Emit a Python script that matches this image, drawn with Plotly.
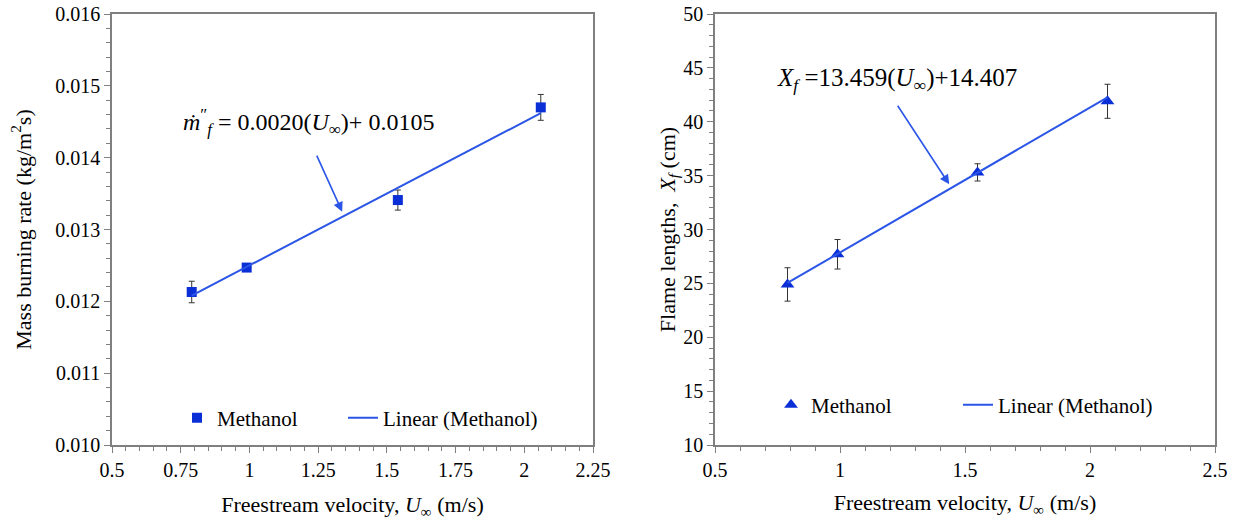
import plotly.graph_objects as go
import numpy as np

# ---------------- data ----------------
velocity_left = [0.79, 0.99, 1.54, 2.06]
burning_rate = [0.01213, 0.01247, 0.01341, 0.01470]
burning_rate_err = [0.00015, 0.00003, 0.00014, 0.00018]
burn_slope, burn_intercept = 0.0020, 0.0105

velocity_right = [0.79, 0.99, 1.55, 2.07]
flame_length = [24.9, 27.7, 35.3, 41.9]
flame_length_err = [1.55, 1.37, 0.8, 1.58]
flame_slope, flame_intercept = 13.459, 14.407

left_xticks = [0.5, 0.75, 1, 1.25, 1.5, 1.75, 2, 2.25]
left_yticks = [0.010, 0.011, 0.012, 0.013, 0.014, 0.015, 0.016]
right_xticks = [0.5, 1, 1.5, 2, 2.5]
right_yticks = [10, 15, 20, 25, 30, 35, 40, 45, 50]

W, H = 1237, 525
FONT = "Liberation Serif"
MARK = "#0B2FD6"
LINE = "#2A55E6"
AXC = "#7f7f7f"
TXT = "#000000"

def px_x(p):
    return p / W

def px_y(p):
    return 1 - p / H

fig = go.Figure()

# left panel
fig.add_trace(go.Scatter(
    x=velocity_left, y=burning_rate, mode="markers", name="Methanol",
    marker=dict(symbol="square", size=10, color=MARK),
    error_y=dict(type="data", array=burning_rate_err, color="#333333", thickness=1, width=3),
    xaxis="x", yaxis="y", legend="legend"))
lx = np.array([velocity_left[0], velocity_left[-1]])
fig.add_trace(go.Scatter(
    x=lx, y=burn_slope * lx + burn_intercept, mode="lines", name="Linear (Methanol)",
    line=dict(color=LINE, width=2), xaxis="x", yaxis="y", legend="legend2"))

# right panel
fig.add_trace(go.Scatter(
    x=velocity_right, y=flame_length, mode="markers", name="Methanol",
    marker=dict(symbol="triangle-up", size=12, color=MARK),
    error_y=dict(type="data", array=flame_length_err, color="#333333", thickness=1, width=3),
    xaxis="x2", yaxis="y2", legend="legend3"))
rx = np.array([velocity_right[0], velocity_right[-1]])
fig.add_trace(go.Scatter(
    x=rx, y=flame_slope * rx + flame_intercept, mode="lines", name="Linear (Methanol)",
    line=dict(color=LINE, width=2), xaxis="x2", yaxis="y2", legend="legend4"))

tickfont = dict(family=FONT, size=20, color=TXT)
titlefont = dict(family=FONT, size=22, color=TXT)

common = dict(showline=True, linecolor=AXC, linewidth=1.5, mirror=True,
              ticks="outside", ticklen=6, tickcolor=AXC, tickwidth=1,
              showgrid=False, zeroline=False, tickfont=tickfont, automargin=False)

ydom = [px_y(445), px_y(14)]

legfont = dict(family=FONT, size=21, color=TXT)
def leg(xp, yp):
    return dict(orientation="h", x=px_x(xp), y=px_y(yp), xanchor="left", yanchor="middle",
                font=legfont, bgcolor="rgba(0,0,0,0)", itemwidth=30)

fig.update_layout(
    width=W, height=H, margin=dict(l=0, r=0, t=0, b=0),
    paper_bgcolor="white", plot_bgcolor="white",
    font=dict(family=FONT, size=20, color=TXT),
    xaxis=dict(domain=[px_x(112), px_x(593)], range=[0.5, 2.25], tickvals=left_xticks,
               minor=dict(dtick=0.05, ticks="outside", ticklen=4, tickcolor=AXC),
               title=dict(text="Freestream velocity, <i>U</i><sub>∞</sub> (m/s)", font=titlefont, standoff=17),
               anchor="y", **common),
    yaxis=dict(domain=ydom, range=[0.010, 0.016], tickvals=left_yticks, tickformat=".3f",
               minor=dict(dtick=0.0002, ticks="outside", ticklen=4, tickcolor=AXC),
               title=dict(text="Mass burning rate (kg/m<sup>2</sup>s)", font=titlefont, standoff=18),
               anchor="x", **common),
    xaxis2=dict(domain=[px_x(715), px_x(1215)], range=[0.5, 2.5], tickvals=right_xticks,
                minor=dict(dtick=0.1, ticks="outside", ticklen=4, tickcolor=AXC),
                title=dict(text="Freestream velocity, <i>U</i><sub>∞</sub> (m/s)", font=titlefont, standoff=15),
                anchor="y2", **common),
    yaxis2=dict(domain=ydom, range=[10, 50], tickvals=right_yticks,
                minor=dict(dtick=1, ticks="outside", ticklen=4, tickcolor=AXC),
                title=dict(text="Flame lengths,  <i>X<sub>f</sub></i> (cm)", font=titlefont, standoff=2),
                anchor="x2", **common),
    legend=leg(177, 418),
    legend2=leg(343, 418),
    legend3=leg(771, 405),
    legend4=leg(958, 405),
    showlegend=True,
)

fig.add_annotation(x=1.2146, y=0.014497, xref="x", yref="y", showarrow=False,
                   font=dict(family=FONT, size=24, color=TXT),
                   text="<i>ṁ</i><sup>″</sup><sub><i>f</i></sub> = 0.0020(<i>U</i><sub>∞</sub>)+ 0.0105")
fig.add_annotation(x=1.3374, y=0.013248, ax=1.2426, ay=0.01405, xref="x", yref="y",
                   axref="x", ayref="y", text="", showarrow=True, arrowhead=2, arrowsize=1.2,
                   arrowwidth=1.6, arrowcolor=LINE)
fig.add_annotation(x=1.228, y=43.95, xref="x2", yref="y2", showarrow=False,
                   font=dict(family=FONT, size=25, color=TXT),
                   text="<i>X</i><sub><i>f</i></sub> =13.459(<i>U</i><sub>∞</sub>)+14.407")
fig.add_annotation(x=1.437, y=34.19, ax=1.2268, ay=41.63, xref="x2", yref="y2",
                   axref="x2", ayref="y2", text="", showarrow=True, arrowhead=2, arrowsize=1.2,
                   arrowwidth=1.6, arrowcolor=LINE)

fig.write_html("out.html")
